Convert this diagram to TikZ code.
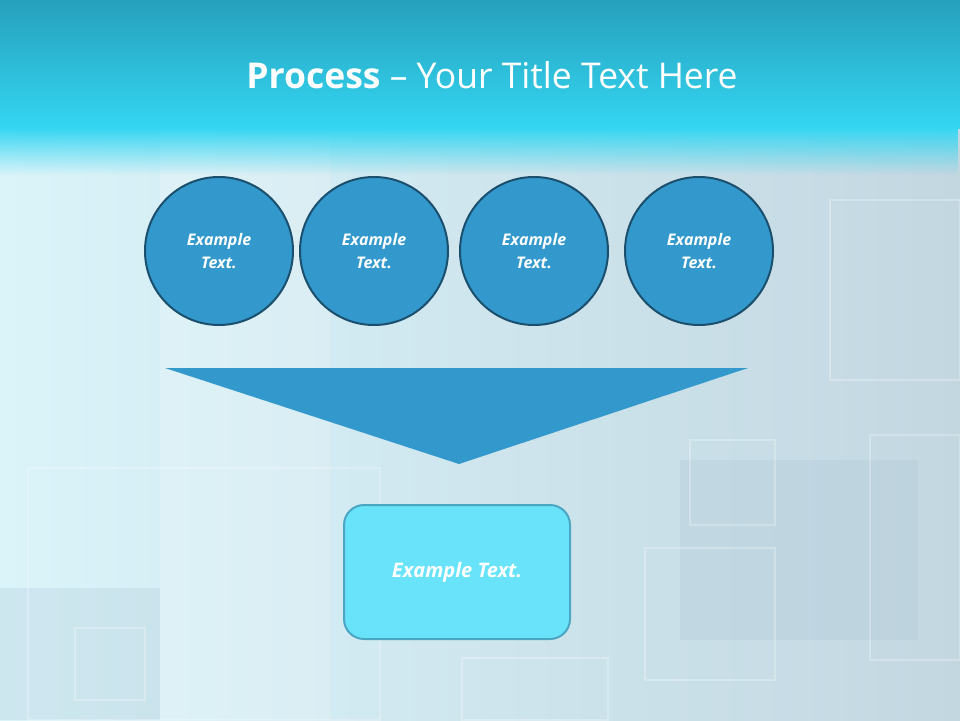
\documentclass[tikz,border=0pt]{standalone}
\usepackage{fontspec}
\setmainfont{Open Sans}
\usetikzlibrary{fadings}
\begin{document}
\begin{tikzpicture}[x=1pt,y=-1pt,
  circ/.style={circle,draw=circline,line width=2pt,fill=circfill,minimum size=148pt,inner sep=0pt,text=white,align=center,font=\bfseries\itshape\fontsize{16}{23}\selectfont},
  deco/.style={draw=white,opacity=0.25,line width=1.2pt}]
\definecolor{circfill}{HTML}{3399CC}
\definecolor{circline}{HTML}{1B4F6E}
\definecolor{boxfill}{HTML}{69E3F9}
\definecolor{boxline}{HTML}{4AA6C2}
\definecolor{bgL}{RGB}{218,244,250}
\definecolor{bgR}{RGB}{195,215,225}
\definecolor{dk}{RGB}{170,195,210}
\definecolor{tTop}{RGB}{38,160,188}
\definecolor{tBot}{RGB}{52,214,242}
\useasboundingbox (0,0) rectangle (960,720);
\shade[left color=bgL, right color=bgR] (0,0) rectangle (960,720);
\fill[white,opacity=0.18] (160,130) rectangle (330,720);
\fill[dk,opacity=0.25] (680,460) rectangle (918,640);
\fill[dk,opacity=0.25] (0,588) rectangle (160,720);
\draw[deco] (830,200) rectangle (960,380);
\draw[deco] (690,440) rectangle (775,525);
\draw[deco] (645,548) rectangle (775,680);
\draw[deco] (28,468) rectangle (380,720);
\draw[deco] (75,628) rectangle (145,700);
\draw[deco] (462,658) rectangle (608,720);
\draw[deco] (870,435) rectangle (960,660);
\shade[top color=tTop, bottom color=tBot] (0,0) rectangle (960,128);
\fill[tBot,path fading=south] (0,127) rectangle (960,175);
\node[text=white,font=\fontsize{35.5}{40}\selectfont] (title) at (492,75) {\textbf{Process} – Your Title Text Here};
\node[circ] (c1) at (219,251) {Example\\Text.};
\node[circ] (c2) at (374,251) {Example\\Text.};
\node[circ] (c3) at (534,251) {Example\\Text.};
\node[circ] (c4) at (699,251) {Example\\Text.};
\fill[circfill] (165,368) -- (748,368) -- (459,464) -- cycle;
\node[draw=boxline,line width=2pt,fill=boxfill,rounded corners=20pt,minimum width=226pt,minimum height=134pt,text=white,font=\bfseries\itshape\fontsize{20}{24}\selectfont] (box) at (457,572) {Example Text.};
\end{tikzpicture}
\end{document}
